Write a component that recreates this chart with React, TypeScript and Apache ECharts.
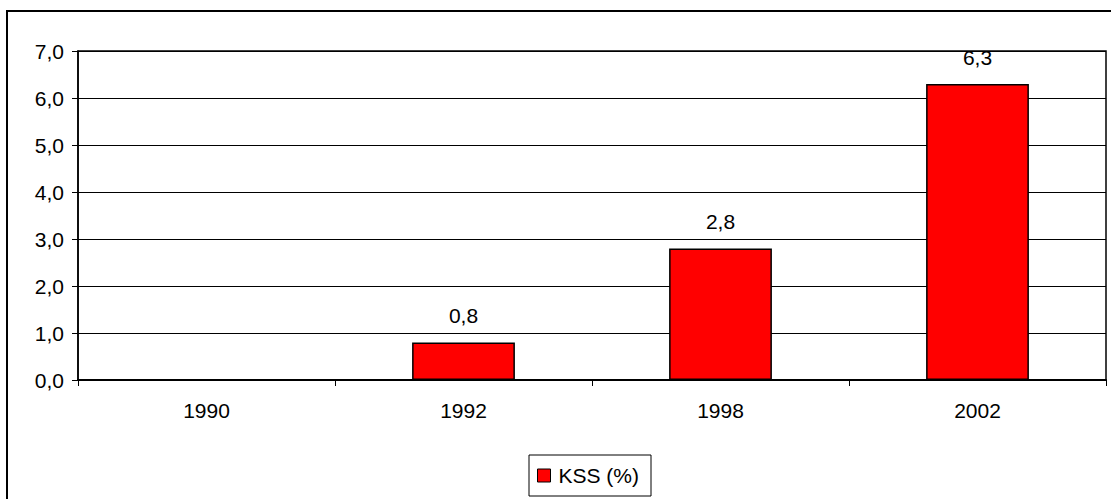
import React, { useEffect, useRef } from "react";
import * as echarts from "echarts";

const categories = ["1990", "1992", "1998", "2002"];
const kssValues = [0, 0.8, 2.8, 6.3];
const seriesName = "KSS (%)";
const yMin = 0;
const yMax = 7;
const yInterval = 1;

const FONT = "'Liberation Sans', Arial, sans-serif";
const fmt = (v: number) => v.toFixed(1).replace(".", ",");

export default function App() {
  const ref = useRef<HTMLDivElement>(null);
  useEffect(() => {
    if (!ref.current) return;
    const chart = echarts.init(ref.current, undefined, { renderer: "svg" });
    chart.setOption({
      animation: false,
      backgroundColor: "#ffffff",
      textStyle: { fontFamily: FONT },
      grid: {
        left: 78,
        top: 51,
        right: 5,
        bottom: 119,
        show: true,
        borderColor: "#000",
        borderWidth: 1.5,
        containLabel: false,
      },
      legend: {
        left: 529,
        top: 455,
        padding: [10, 12, 10, 8],
        borderColor: "#000",
        borderWidth: 1,
        itemWidth: 13,
        itemHeight: 13,
        icon: "rect",
        itemStyle: { borderColor: "#000", borderWidth: 1 },
        textStyle: { fontSize: 21, color: "#000", fontFamily: FONT, padding: [0, 0, 0, 3] },
        data: [seriesName],
      },
      xAxis: {
        type: "category",
        data: categories,
        axisLine: { show: true, lineStyle: { color: "#000", width: 2 } },
        axisTick: { show: true, alignWithLabel: false, length: 6, lineStyle: { color: "#000", width: 1 } },
        axisLabel: { fontSize: 21, color: "#000", margin: 20, fontFamily: FONT },
        splitLine: { show: false },
      },
      yAxis: {
        type: "value",
        min: yMin,
        max: yMax,
        interval: yInterval,
        axisLine: { show: true, lineStyle: { color: "#000", width: 1.5 } },
        axisTick: { show: true, length: 6, lineStyle: { color: "#000", width: 1 } },
        axisLabel: { fontSize: 21, color: "#000", margin: 14, fontFamily: FONT, formatter: (v: number) => fmt(v) },
        splitLine: { show: true, lineStyle: { color: "#000", width: 1 } },
      },
      series: [
        {
          name: seriesName,
          type: "bar",
          data: kssValues,
          barWidth: "40%",
          itemStyle: { color: "#FF0000", borderColor: "#000", borderWidth: 1.5 },
          label: {
            show: true,
            position: "top",
            distance: 16,
            fontSize: 21,
            color: "#000",
            fontFamily: FONT,
            formatter: (p: any) => (p.value === 0 ? "" : fmt(p.value)),
          },
        },
      ],
      graphic: [
        {
          type: "rect",
          shape: { x: 7, y: 11, width: 1300, height: 700 },
          style: { fill: "none", stroke: "#000", lineWidth: 2 },
          silent: true,
        },
      ],
    });
    return () => chart.dispose();
  }, []);
  return <div ref={ref} style={{ width: 1111, height: 499, position: "absolute", left: 0, top: 0 }} />;
}
